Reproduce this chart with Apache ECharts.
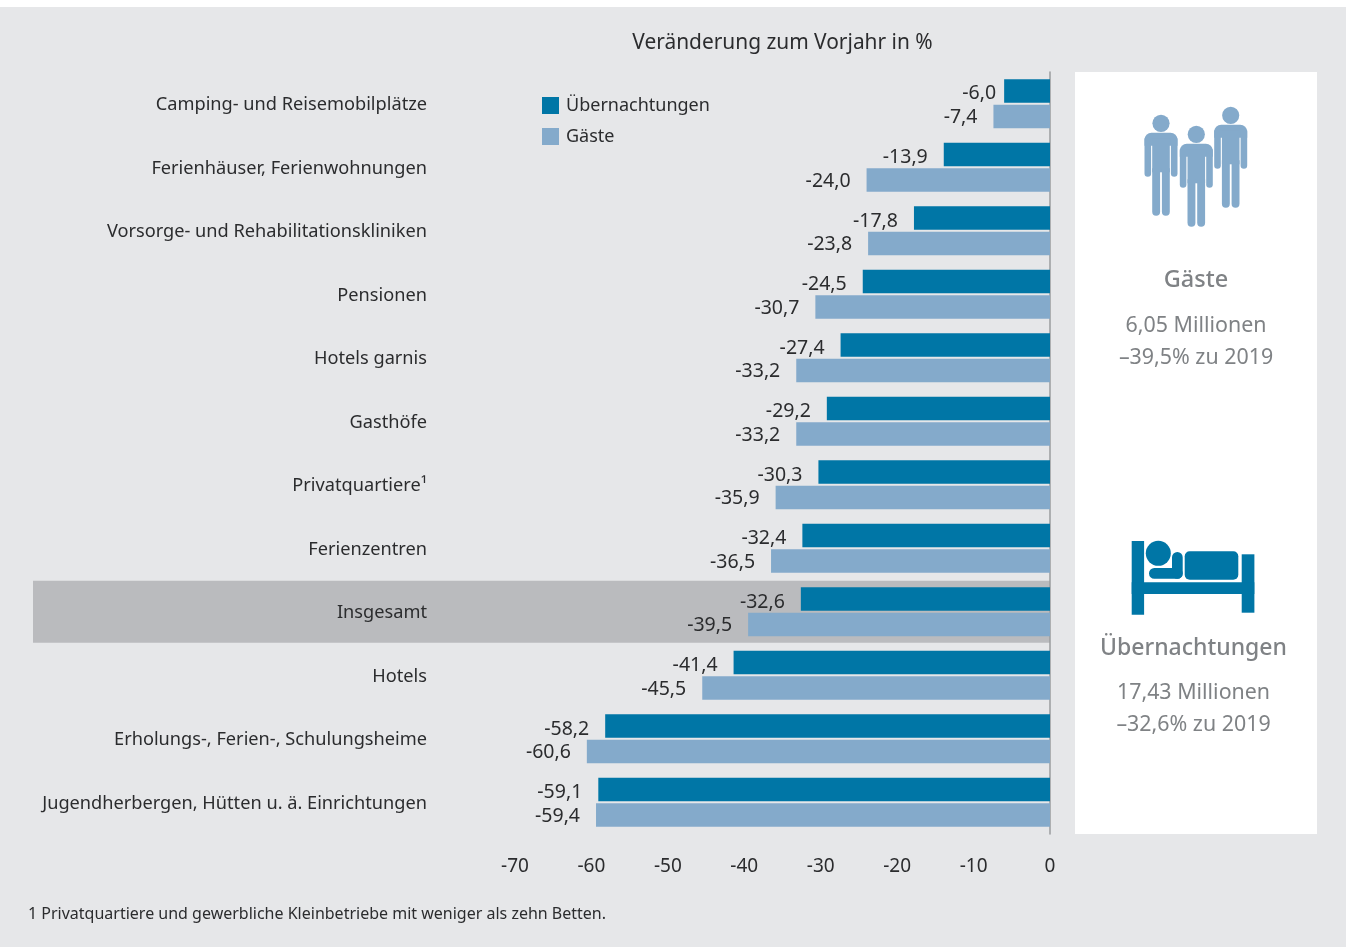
<!DOCTYPE html>
<html><head><meta charset="utf-8">
<style>html,body{margin:0;padding:0;background:#fff}#c{width:1348px;height:947px}</style>
<script src="https://cdn.jsdelivr.net/npm/echarts@6/dist/echarts.min.js"></script>
</head><body><div id="c"></div>
<script>
const categories = ['Camping- und Reisemobilplätze','Ferienhäuser, Ferienwohnungen','Vorsorge- und Rehabilitationskliniken','Pensionen','Hotels garnis','Gasthöfe','Privatquartiere¹','Ferienzentren','Insgesamt','Hotels','Erholungs-, Ferien-, Schulungsheime','Jugendherbergen, Hütten u. ä. Einrichtungen'];
const uebernachtungen = [-6.0,-13.9,-17.8,-24.5,-27.4,-29.2,-30.3,-32.4,-32.6,-41.4,-58.2,-59.1];
const gaeste = [-7.4,-24.0,-23.8,-30.7,-33.2,-33.2,-35.9,-36.5,-39.5,-45.5,-60.6,-59.4];
const title = 'Veränderung zum Vorjahr in %';
const footnote = '1 Privatquartiere und gewerbliche Kleinbetriebe mit weniger als zehn Betten.';
const seriesNames = ['Übernachtungen','Gäste'];
const sideGaeste = ['Gäste','6,05 Millionen','–39,5% zu 2019'];
const sideNaechte = ['Übernachtungen','17,43 Millionen','–32,6% zu 2019'];

const FONT = '"Noto Sans", sans-serif';
const DARK = '#0076a6', LIGHT = '#84aacb', TXT = '#2b2c2e', SIDE = '#7f8285';
const chart = echarts.init(document.getElementById('c'), null, {renderer:'canvas'});
const fmt = p => p.value.toFixed(1).replace('.', ',');
const lbl = {show:true, position:'left', distance:16, offset:[0,1], formatter:fmt, color:TXT, fontSize:19.5, fontFamily:FONT};

function rect(x,y,w,h,fill,r){return {type:'rect',shape:{x,y,width:w,height:h,r:r||0},style:{fill},z:3};}
function circ(cx,cy,r,fill){return {type:'circle',shape:{cx,cy,r},style:{fill},z:3};}
function person(cx,hy){
  const f=LIGHT;
  return [
    circ(cx,hy,8.6,f),
    rect(cx-16.5,hy+9.4,33,13,f,[7,7,0,0]),
    rect(cx-16.5,hy+15,6.6,38.4,f,[0,0,3.3,3.3]),
    rect(cx+9.9,hy+15,6.6,38.4,f,[0,0,3.3,3.3]),
    rect(cx-8.8,hy+15,17.6,34,f),
    rect(cx-8.8,hy+45,7.9,47.4,f,[0,0,3.9,3.9]),
    rect(cx+0.9,hy+45,7.9,47.4,f,[0,0,3.9,3.9])
  ];
}
function sideText(lines,cx,ys,bigSize){
  return lines.map((t,i)=>({type:'text',z:3,style:{text:t,x:cx,y:ys[i],align:'center',verticalAlign:'middle',
    fill:SIDE,font:(i===0?'500 '+bigSize:'400 21.4')+'px '+FONT}}));
}
const deco = [
  {type:'rect',shape:{x:0,y:7,width:1346,height:940},style:{fill:'#e6e7e9'},z:-10},
  rect(1075,72,242,762,'#ffffff'),
  ...person(1161,123.3),...person(1196.3,134.3),...person(1230.7,115.3),
  rect(1131.7,541,12.4,73.7,DARK),
  rect(1241.7,554.3,12.7,58.4,DARK),
  rect(1131.7,582.3,122.6,11.7,DARK),
  circ(1158.3,553.3,12.5,DARK),
  rect(1184.7,551.3,53.6,28.4,DARK,5),
  rect(1149,568,33.7,10.7,DARK,5.3),
  rect(1172,552,10.7,26.7,DARK,5.3),
  ...sideText(sideGaeste,1196,[280.5,325.5,357.5],23.5),
  ...sideText(sideNaechte,1193.5,[648.5,692.5,724.5],23),
  {type:'text',z:3,style:{text:title,x:782.5,y:43.5,align:'center',verticalAlign:'middle',fill:TXT,font:'400 20.9px '+FONT}},
  {type:'text',z:3,style:{text:footnote,x:28,y:914,align:'left',verticalAlign:'middle',fill:TXT,font:'400 16px '+FONT}}
];

chart.setOption({
  animation:false,
  textStyle:{fontFamily:FONT},
  grid:{left:515,right:298,top:72,height:762,containLabel:false},
  legend:{orient:'vertical',left:537,top:91,itemWidth:17,itemHeight:17,itemGap:12,icon:'rect',
    data:seriesNames,formatter:n=>'{a|'+n+'}',
    textStyle:{color:TXT,fontSize:18,lineHeight:17,fontFamily:FONT,
      rich:{a:{color:TXT,fontSize:18,fontFamily:FONT,lineHeight:17,padding:[1,0,0,2]}}}},
  xAxis:{type:'value',min:-70,max:0,interval:10,splitLine:{show:false},axisLine:{show:false},axisTick:{show:false},
    axisLabel:{color:TXT,fontSize:19,margin:23,fontFamily:FONT}},
  yAxis:[
    {type:'category',inverse:true,data:categories,position:'left',axisLine:{show:false},axisTick:{show:false},
      axisLabel:{margin:88,align:'right',formatter:n=>'{a|'+n+'}',
        rich:{a:{color:TXT,fontSize:18.2,fontFamily:FONT,padding:[3,0,0,0]}}}},
    {type:'category',inverse:true,data:categories,position:'right',axisLine:{show:true,lineStyle:{color:'#9a9c9e',width:1.5}},axisTick:{show:false},axisLabel:{show:false}}
  ],
  series:[
    {name:seriesNames[0],type:'bar',barWidth:23.5,barGap:'8.5%',itemStyle:{color:DARK},label:{...lbl,offset:[0,3]},
      data:uebernachtungen.map((v,i)=>i===0?{value:v,label:{distance:8,offset:[0,2]}}:v)},
    {name:seriesNames[1],type:'bar',barWidth:23.5,itemStyle:{color:LIGHT},label:lbl,data:gaeste}
  ],
  graphic:{elements:deco}
});
const ix = categories.indexOf('Insgesamt');
const yc = chart.convertToPixel({yAxisIndex:0}, ix);
const x0 = chart.convertToPixel({xAxisIndex:0}, 0);
deco.push({type:'rect',shape:{x:33,y:yc-31,width:x0-33,height:62},style:{fill:'#babbbe'},z:-5});
chart.setOption({graphic:{elements:deco}},{replaceMerge:['graphic']});
</script></body></html>
